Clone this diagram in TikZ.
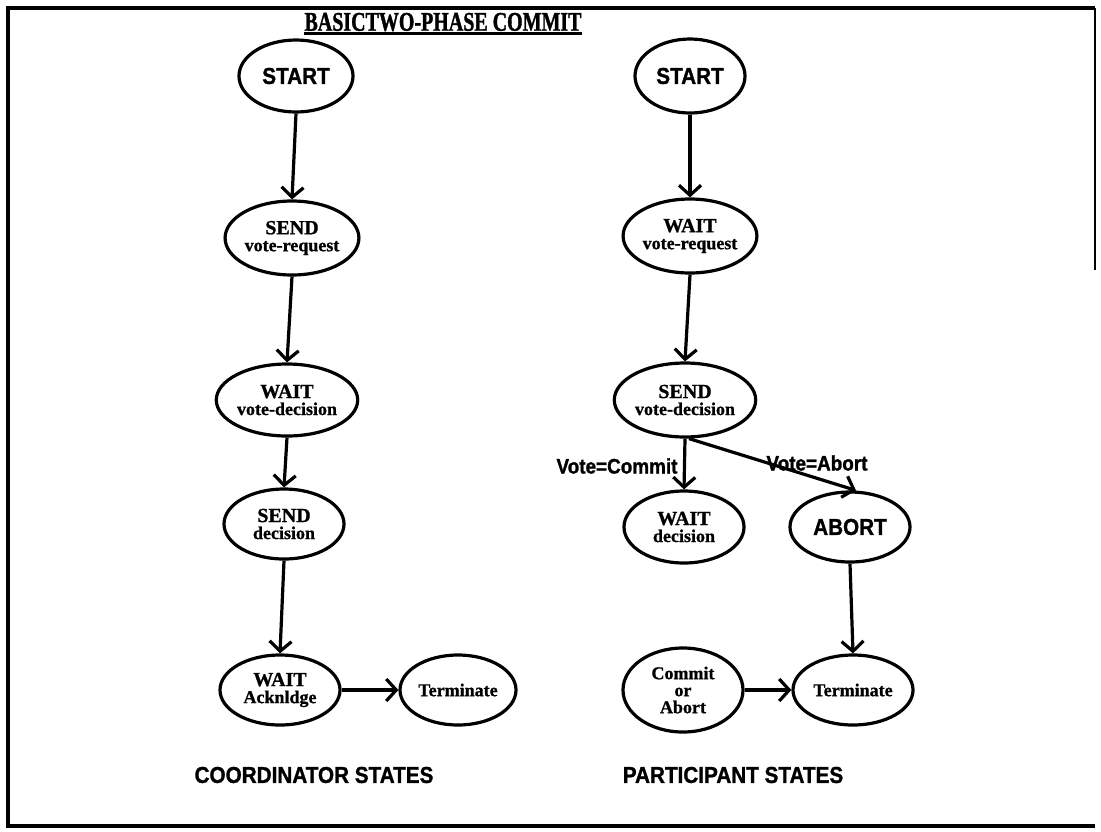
\documentclass[tikz,border=0pt]{standalone}
\usepackage{fontspec}
\usetikzlibrary{shapes.geometric,arrows.meta}
\newfontfamily\hvf[FakeStretch=0.9,FakeBold=1.2]{Liberation Sans}
\newfontfamily\tmf[FakeBold=1]{Liberation Serif}
\newfontfamily\tmt[FakeStretch=0.74,FakeBold=1.2]{Liberation Serif}
\begin{document}
\begin{tikzpicture}[x=1pt,y=-1pt,
  st/.style={draw,ellipse,line width=3.2pt,minimum width=118pt,minimum height=72pt,inner sep=0pt,align=center,
             font=\tmf\bfseries\fontsize{18}{17}\selectfont},
  big/.style={font=\hvf\bfseries\fontsize{23}{23}\selectfont},
  lbl/.style={font=\hvf\bfseries\fontsize{21}{21}\selectfont,inner sep=0pt},
  caplabel/.style={font=\hvf\bfseries\fontsize{23}{23}\selectfont,inner sep=0pt},
  arr/.style={line width=3.2pt,-{Straight Barb[length=10pt,width=22pt,line width=3.2pt]}},
]
\useasboundingbox (0,0) rectangle (1101,831);
% frame
\draw[line width=3.5pt] (1095,8) -- (8,8) -- (8,826) -- (1095,826);
\draw[line width=2pt] (1095,8) -- (1095,270);
% title
\node[inner sep=0pt,font=\tmt\bfseries\fontsize{27}{27}\selectfont] (title) at (443,22) {BASICTWO-PHASE COMMIT};
\draw[line width=3pt] ([yshift=-2pt]title.south west) -- ([yshift=-2pt]title.south east);

% coordinator
\node[st,big,minimum width=114pt] (cs) at (296,76) {START};
\node[st,minimum width=120pt,minimum height=74pt] (cvr) at (292,238) {{\fontsize{20}{20}\selectfont SEND}\\vote-request};
\node[st,minimum width=120pt,minimum height=72pt] (cvd) at (287,400) {{\fontsize{20}{20}\selectfont WAIT}\\vote-decision};
\node[st,minimum width=120pt,minimum height=70pt] (cd) at (284,524) {{\fontsize{20}{20}\selectfont SEND}\\decision};
\node[st,minimum width=120pt,minimum height=70pt] (ca) at (280,690) {{\fontsize{20}{20}\selectfont WAIT}\\Acknldge};
\node[st,minimum width=116pt,minimum height=70pt] (ct) at (458,690) {Terminate};
\node[caplabel] (clab) at (314,775) {COORDINATOR STATES};

\draw[arr] (cs.south) -- (cvr.north);
\draw[arr] (cvr.south) -- (cvd.north);
\draw[arr] (cvd.south) -- (cd.north);
\draw[arr] (cd.south) -- (ca.north);
\draw[arr] (ca.east) -- (ct.west);

% participant
\node[st,big,minimum width=110pt,minimum height=74pt] (ps) at (690,76) {START};
\node[st,minimum width=120pt,minimum height=74pt] (pvr) at (690,236) {{\fontsize{20}{20}\selectfont WAIT}\\vote-request};
\node[st,minimum width=122pt,minimum height=74pt] (pvd) at (685,400) {{\fontsize{20}{20}\selectfont SEND}\\vote-decision};
\node[st,minimum width=120pt,minimum height=72pt] (pd) at (684,527) {{\fontsize{20}{20}\selectfont WAIT}\\decision};
\node[st,big,minimum width=120pt,minimum height=70pt] (pab) at (850,527) {ABORT};
\node[st,minimum width=120pt,minimum height=84pt] (pca) at (683,690) {Commit\\or\\Abort};
\node[st,minimum width=120pt,minimum height=70pt] (pt) at (853,690) {Terminate};
\node[caplabel] (plab) at (733,775) {PARTICIPANT STATES};

\draw[arr] (ps.south) -- (pvr.north);
\draw[arr] (pvr.south) -- (pvd.north);
\draw[arr] (pvd.south) -- (pd.north);
\draw[arr] ([xshift=4pt]pvd.south) -- ([xshift=6pt]pab.north);
\draw[arr] (pab.south) -- (pt.north);
\draw[arr] (pca.east) -- (pt.west);

\node[lbl] (vc) at (617,466) {Vote=Commit};
\node[lbl] (va) at (817,463) {Vote=Abort};
\end{tikzpicture}
\end{document}
